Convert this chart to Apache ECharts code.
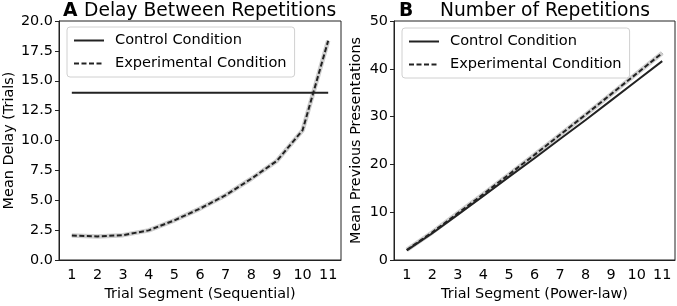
<!DOCTYPE html>
<html><head><meta charset="utf-8">
<script src="https://cdn.jsdelivr.net/npm/echarts@6/dist/echarts.min.js"></script>
<style>html,body{margin:0;padding:0;background:#fff}#c{width:677px;height:306px}</style>
</head><body><div id="c"></div>
<script>
const segments = ['1','2','3','4','5','6','7','8','9','10','11'];
const delayControl = [14,14,14,14,14,14,14,14,14,14,14];
const delayExperimental = [2.05,1.97,2.08,2.48,3.32,4.3,5.42,6.8,8.3,10.85,18.35];
const repsControl = [2.0,5.6,9.5,13.4,17.4,21.3,25.3,29.3,33.4,37.5,41.6];
const repsExperimental = [2.1,5.8,9.8,13.8,17.9,22.0,26.2,30.4,34.7,39.0,43.3];

const FONT = 'DejaVu Sans';
const INK = '#222';
const tickLabel = {color:'#000', fontFamily:FONT, fontSize:14.4};
function xAxis(idx, name){
  return {type:'category', gridIndex:idx, data:segments, boundaryGap:true,
    name:name, nameLocation:'middle', nameGap:27,
    nameTextStyle:{color:'#000', fontFamily:FONT, fontSize:14.4},
    axisLine:{lineStyle:{color:INK, width:1}},
    axisTick:{alignWithLabel:true, length:4, lineStyle:{color:INK}},
    axisLabel:Object.assign({margin:8}, tickLabel),
    splitLine:{show:false}};
}
function yAxis(idx, name, max, interval, fmt){
  return {type:'value', gridIndex:idx, min:0, max:max, interval:interval,
    name:name, nameLocation:'middle', nameGap: idx===0?43:31,
    nameTextStyle:{color:'#000', fontFamily:FONT, fontSize:14.4},
    axisLine:{show:true, lineStyle:{color:INK, width:1}},
    axisTick:{show:true, length:4, lineStyle:{color:INK}},
    axisLabel:Object.assign({margin:6, formatter:fmt}, tickLabel),
    splitLine:{show:false}};
}
function line(name, x, y, data, dashed){
  return {type:'line', name:name, xAxisIndex:x, yAxisIndex:y, data:data,
    symbol:'none', smooth:false, z:3,
    lineStyle:{color:INK, width:2, type: dashed?[5,2.5]:'solid'},
    itemStyle:{color:INK}};
}
function halo(x, y, data){
  return {type:'line', name:'band', xAxisIndex:x, yAxisIndex:y, data:data,
    symbol:'none', silent:true, z:2, lineStyle:{color:'#cfcfcf', width:4.5}};
}
function legend(left, top){
  return {orient:'vertical', left:left, top:top, itemWidth:30, itemHeight:10, itemGap:8,
    padding:[6,8,6,6], borderColor:'#d0d0d0', borderWidth:1, borderRadius:3,
    backgroundColor:'rgba(255,255,255,0.8)',
    itemStyle:{opacity:0},
    textStyle:{color:'#000', fontFamily:FONT, fontSize:14.6, padding:[0,0,0,6]},
    data:['Control Condition','Experimental Condition'], selectedMode:false};
}
const chart = echarts.init(document.getElementById('c'), null, {renderer:'canvas'});
chart.setOption({
  animation:false,
  backgroundColor:'#fff',
  title:[
    {text:'A', left:58, top:-3, textStyle:{fontFamily:FONT, fontSize:18.7, fontWeight:'bold', color:'#000'}},
    {text:'Delay Between Repetitions', left:79, top:-3, textStyle:{fontFamily:FONT, fontSize:18.7, fontWeight:'normal', color:'#000'}},
    {text:'B', left:394, top:-3, textStyle:{fontFamily:FONT, fontSize:18.7, fontWeight:'bold', color:'#000'}},
    {text:'Number of Repetitions', left:435, top:-3, textStyle:{fontFamily:FONT, fontSize:18.7, fontWeight:'normal', color:'#000'}}
  ],
  legend:[legend(67,27), legend(402,28)],
  grid:[
    {left:59, top:21, width:282, height:244, show:true, borderColor:INK, borderWidth:1, backgroundColor:'transparent'},
    {left:394, top:21, width:281, height:244, show:true, borderColor:INK, borderWidth:1, backgroundColor:'transparent'}
  ],
  xAxis:[xAxis(0,'Trial Segment (Sequential)'), xAxis(1,'Trial Segment (Power-law)')],
  yAxis:[yAxis(0,'Mean Delay (Trials)',20,2.5,v=>v.toFixed(1)), yAxis(1,'Mean Previous Presentations',50,10,v=>String(v))],
  series:[
    line('Control Condition',0,0,delayControl,false),
    halo(0,0,delayExperimental),
    line('Experimental Condition',0,0,delayExperimental,true),
    line('Control Condition',1,1,repsControl,false),
    halo(1,1,repsExperimental),
    line('Experimental Condition',1,1,repsExperimental,true)
  ]
});
</script></body></html>
